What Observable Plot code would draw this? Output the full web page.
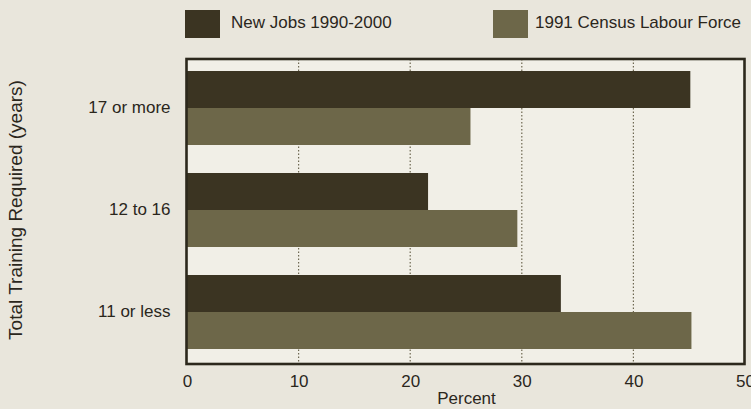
<!DOCTYPE html>
<html><head><meta charset="utf-8">
<script src="https://cdn.jsdelivr.net/npm/d3@7"></script>
<script src="https://cdn.jsdelivr.net/npm/@observablehq/plot@0.6"></script>
<style>
body{margin:0;background:#e9e6dc;}
#wrap{position:relative;width:751px;height:409px;overflow:hidden;font-family:"Liberation Sans",Arial,sans-serif;color:#2b271c;}
#legend{position:relative;height:48px;}
.sw{position:absolute;top:10px;width:35px;height:28px;}
.lt{position:absolute;top:11px;font-size:17px;line-height:24px;white-space:nowrap;}
svg{display:block;}
</style>
</head><body>
<div id="wrap"><div id="legend"></div><div id="chart"></div></div>
<script>
const categories = ["17 or more", "12 to 16", "11 or less"];
const series = ["New Jobs 1990-2000", "1991 Census Labour Force"];
const newJobs = [45.1, 21.6, 33.5];
const censusLabour = [25.4, 29.6, 45.2];
const xTicks = [0, 10, 20, 30, 40, 50];
const colors = ["#3b3422", "#6d6749"];

const rows = [];
categories.forEach((c, i) => {
  rows.push({category: c, series: series[0], value: newJobs[i]});
  rows.push({category: c, series: series[1], value: censusLabour[i]});
});

// legend (HTML, above the SVG)
const legend = document.getElementById("legend");
const legendX = [[185, 231], [493, 535]];
series.forEach((s, i) => {
  const sw = document.createElement("div");
  sw.className = "sw"; sw.style.left = legendX[i][0] + "px"; sw.style.background = colors[i];
  const t = document.createElement("div");
  t.className = "lt"; t.style.left = legendX[i][1] + "px"; t.textContent = s;
  legend.append(sw, t);
});

const H = 361, MT = 11, MB = 45, ML = 187, MR = 6;
const plot = Plot.plot({
  width: 751, height: H,
  marginLeft: ML, marginRight: MR, marginTop: MT, marginBottom: MB,
  style: {background: "transparent", fontFamily: '"Liberation Sans",Arial,sans-serif', fontSize: "17px", color: "#2b271c"},
  x: {domain: [0, 50], ticks: xTicks, tickSize: 0, tickPadding: 25, label: "Percent", labelArrow: false, labelAnchor: "center", labelOffset: 54},
  y: {domain: series, axis: null, paddingInner: 0, paddingOuter: 0},
  fy: {domain: categories, paddingInner: 0.265, paddingOuter: 0.127, align: 0.41, tickSize: 0, tickPadding: 17,
       label: "Total Training Required (years)", labelArrow: false, labelAnchor: "center", labelOffset: 179},
  color: {domain: series, range: colors},
  marks: [
    Plot.barX(rows, {x: "value", y: "series", fy: "category", fill: "series"})
  ]
});
document.getElementById("chart").append(plot);

// plot-area background, dotted grid and frame drawn with the x scale
const xs = plot.scale("x");
const svg = d3.select(plot);
const under = svg.insert("g", "g");
const frameTop = MT, frameBottom = H - MB;
under.append("rect").attr("x", xs.apply(0)).attr("y", frameTop)
  .attr("width", xs.apply(50) - xs.apply(0)).attr("height", frameBottom - frameTop).attr("fill", "#f1efe7");
under.selectAll("line").data(xTicks.slice(1, -1)).join("line")
  .attr("x1", d => xs.apply(d)).attr("x2", d => xs.apply(d))
  .attr("y1", frameTop).attr("y2", frameBottom)
  .attr("stroke", "#6e6852").attr("stroke-width", 1.2).attr("stroke-dasharray", "1.5,2");
svg.append("rect").attr("x", xs.apply(0) - 0.5).attr("y", frameTop)
  .attr("width", xs.apply(50) - xs.apply(0)).attr("height", frameBottom - frameTop)
  .attr("fill", "none").attr("stroke", "#2c281c").attr("stroke-width", 2.6);
// y-axis title size
svg.selectAll("text").filter(function() { return this.textContent === "Total Training Required (years)"; })
  .style("font-size", "19px");
</script>
</body></html>
